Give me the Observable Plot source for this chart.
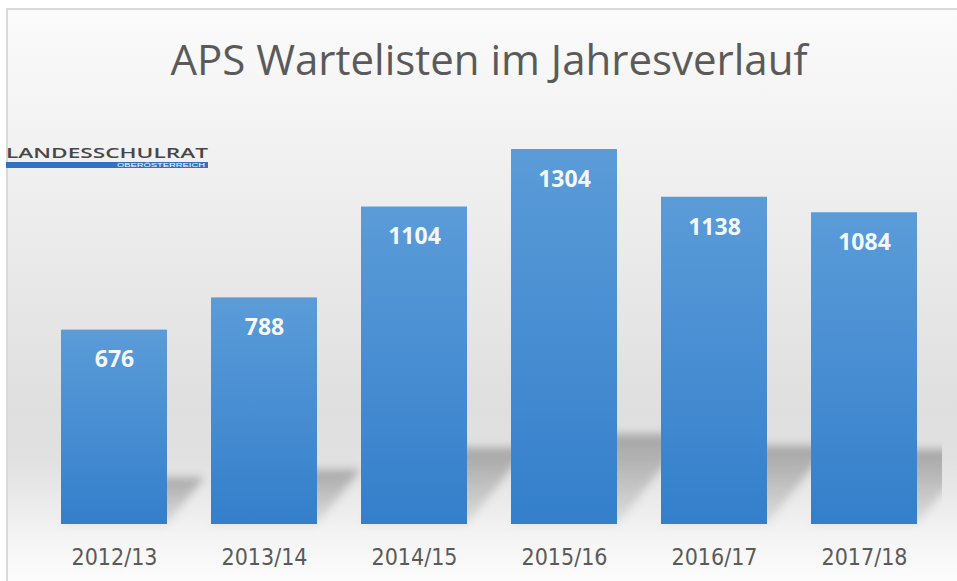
<!DOCTYPE html>
<html><head><meta charset="utf-8">
<script src="https://cdn.jsdelivr.net/npm/d3@7"></script>
<script src="https://cdn.jsdelivr.net/npm/@observablehq/plot@0.6"></script>
<style>
body{margin:0;background:#fff;}
#wrap{position:relative;width:957px;height:581px;overflow:hidden;background:#fff;}
#frame{position:absolute;left:6px;top:8px;right:0;bottom:0;border-top:2px solid #d9d9d9;border-left:2px solid #d9d9d9;
  background:linear-gradient(to bottom,#fbfbfb 0%,#f1f1f1 25%,#e7e7e7 50%,#dfdfdf 70%,#e1e1e1 79%,#ececec 87%,#f5f5f5 93%,#fcfcfc 100%);}
#title{position:absolute;left:0;top:30px;width:978px;text-align:center;font-family:"Open Sans",sans-serif;font-size:42px;line-height:57px;color:#5a5a5a;white-space:nowrap;}
#logo{position:absolute;left:0;top:140px;}
#chart{position:absolute;left:0;top:0;}
</style></head>
<body>
<div id="wrap">
  <div id="frame"></div>
  <div id="title">APS Wartelisten im Jahresverlauf</div>
  <svg id="logo" width="215" height="32">
    <text x="6" y="18" textLength="202" lengthAdjust="spacingAndGlyphs" font-family="Open Sans, sans-serif" font-weight="600" font-size="14.5" fill="#474747">LANDESSCHULRAT</text>
    <rect x="6" y="22" width="202" height="6" fill="#2f73c2"></rect>
    <text x="205" y="27" text-anchor="end" textLength="88" lengthAdjust="spacingAndGlyphs" font-family="Liberation Sans, sans-serif" font-size="5.5" fill="#ffffff">OBERÖSTERREICH</text>
  </svg>
  <div id="chart"></div>
</div>
<script>
const years = ["2012/13", "2013/14", "2014/15", "2015/16", "2016/17", "2017/18"];
const counts = [676, 788, 1104, 1304, 1138, 1084];

const data = years.map((year, i) => ({year, count: counts[i]}));

function defs() {
  const svg = d3.create("svg:defs");
  const g = svg.append("linearGradient").attr("id", "barGrad").attr("x1", 0).attr("y1", 0).attr("x2", 0).attr("y2", 1);
  g.append("stop").attr("offset", "0%").attr("stop-color", "#5b9cd8");
  g.append("stop").attr("offset", "100%").attr("stop-color", "#347fcb");
  const s = svg.append("linearGradient").attr("id", "shadowGrad").attr("x1", 0).attr("y1", 0).attr("x2", 0).attr("y2", 1);
  s.append("stop").attr("offset", "0%").attr("stop-color", "#000").attr("stop-opacity", 0.26);
  s.append("stop").attr("offset", "100%").attr("stop-color", "#000").attr("stop-opacity", 0.07);
  const f = svg.append("filter").attr("id", "blur").attr("x", "-30%").attr("y", "-50%").attr("width", "160%").attr("height", "200%");
  f.append("feGaussianBlur").attr("stdDeviation", 4);
  svg.append("clipPath").attr("id", "shadowClip")
    .append("rect").attr("x", 0).attr("y", 0).attr("width", 942).attr("height", 581);
  return svg.node();
}

function shadows(index, scales) {
  const {x, y} = scales;
  const bw = typeof x.bandwidth === "function" ? x.bandwidth() : x.bandwidth;
  const yb = y(0);
  const outer = d3.create("svg:g").attr("clip-path", "url(#shadowClip)");
  const g = outer.append("g").attr("filter", "url(#blur)");
  years.forEach((yr, i) => {
    const x0 = x(yr);
    const h = 0.24 * (yb - y(counts[i]));
    const s = 0.8 * h;
    g.append("path")
      .attr("d", `M${x0},${yb}L${x0 + bw},${yb}L${x0 + bw + s},${yb - h}L${x0 + s},${yb - h}Z`)
      .attr("fill", "url(#shadowGrad)");
  });
  return outer.node();
}

const chart = Plot.plot({
  width: 957,
  height: 581,
  marginTop: 149,
  marginBottom: 57,
  marginLeft: 45,
  marginRight: 23.5,
  style: {background: "transparent", overflow: "visible"},
  x: {domain: years, paddingInner: 0.296, paddingOuter: 0.1, label: null},
  y: {domain: [0, 1304], axis: null},
  marks: [
    defs,
    shadows,
    Plot.barY(data, {x: "year", y: "count", fill: "url(#barGrad)"}),
    Plot.text(data, {x: "year", y: "count", text: d => String(d.count), dy: 30,
      fill: "#f4f8fd", fontSize: 23, fontWeight: "bold", fontFamily: "Open Sans, sans-serif"}),
    Plot.axisX({tickSize: 0, tickPadding: 24, fontSize: 23, fill: "#5a5a5a",
      fontFamily: "DejaVu Sans Condensed, Liberation Sans Narrow, sans-serif", label: null})
  ]
});
document.getElementById("chart").appendChild(chart);
</script>
</body></html>
